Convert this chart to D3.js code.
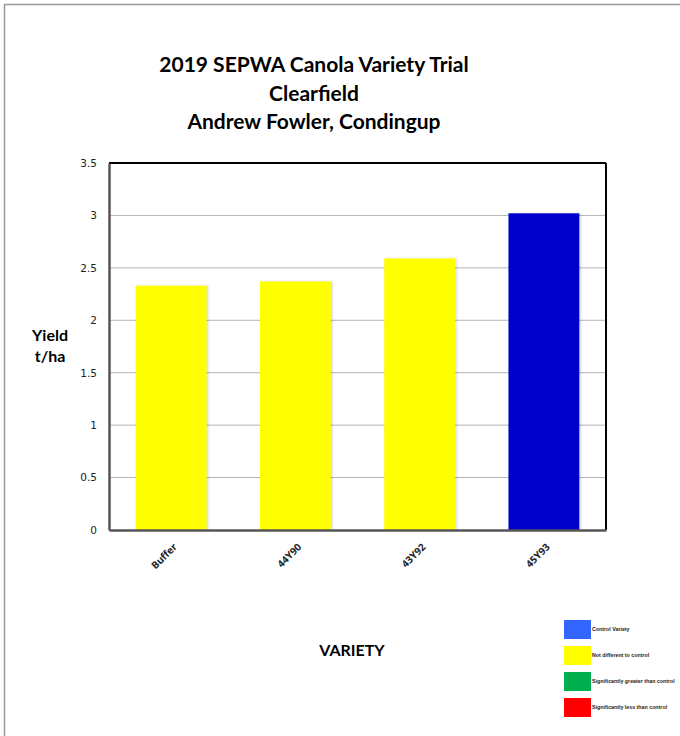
<!DOCTYPE html>
<html>
<head>
<meta charset="utf-8">
<script src="https://cdn.jsdelivr.net/npm/d3@7"></script>
<style>
  body { margin: 0; background: #fff; }
  .axis text { font-family: "DejaVu Sans", Verdana, sans-serif; font-size: 10.5px; fill: #222; }
  .title { font-family: Lato, "Open Sans", sans-serif; font-weight: bold; font-size: 21px; fill: #000; }
  .label { font-family: Lato, "Open Sans", sans-serif; font-weight: bold; font-size: 16px; fill: #000; }
  .legend text { font-family: "Liberation Sans", Arial, sans-serif; font-weight: bold; font-size: 6px; fill: #222; }
</style>
</head>
<body>
<script>
var varieties = ["Buffer", "44Y90", "43Y92", "45Y93"];
var yields = [2.33, 2.37, 2.59, 3.02];
var barColors = ["#ffff00", "#ffff00", "#ffff00", "#0000cc"];
var yTicks = [0, 0.5, 1, 1.5, 2, 2.5, 3, 3.5];
var titleLines = ["2019 SEPWA Canola Variety Trial", "Clearfield", "Andrew Fowler, Condingup"];
var legendLabels = ["Control Variety", "Not different to control", "Significantly greater than control", "Significantly less than control"];
var legendColors = ["#3366ff", "#ffff00", "#00b050", "#ff0000"];

var margin = {top: 163, right: 74, bottom: 206, left: 109},
    width = 680 - margin.left - margin.right,
    height = 736 - margin.top - margin.bottom;

var svg = d3.select("body").append("svg")
    .attr("width", 680)
    .attr("height", 736);

// outer frame
svg.append("rect")
    .attr("x", 4.5).attr("y", 4.5)
    .attr("width", 700).attr("height", 800)
    .attr("fill", "none")
    .attr("stroke", "#999")
    .attr("stroke-width", 1.5);

var defs = svg.append("defs");
var f = defs.append("filter").attr("id", "shadow")
    .attr("x", "-10%").attr("y", "-10%").attr("width", "130%").attr("height", "130%");
f.append("feDropShadow").attr("dx", 1.5).attr("dy", 0).attr("stdDeviation", 1)
    .attr("flood-color", "#000").attr("flood-opacity", 0.18);

var g = svg.append("g")
    .attr("transform", "translate(" + margin.left + "," + margin.top + ")");

var x = d3.scaleBand().domain(varieties).range([0, width])
    .paddingInner(0.43).paddingOuter(0.215);
var y = d3.scaleLinear().domain([0, 3.5]).range([height, 0]);

// gridlines
g.append("g")
    .selectAll("line")
    .data(yTicks.filter(function(d) { return d > 0 && d < 3.5; }))
    .enter().append("line")
    .attr("x1", 0).attr("x2", width)
    .attr("y1", function(d) { return y(d); })
    .attr("y2", function(d) { return y(d); })
    .attr("stroke", "#b4b4b4")
    .attr("stroke-width", 1);

// bars
g.selectAll(".bar")
    .data(yields)
    .enter().append("rect")
    .attr("class", "bar")
    .attr("x", function(d, i) { return x(varieties[i]); })
    .attr("width", x.bandwidth())
    .attr("y", function(d) { return y(d); })
    .attr("height", function(d) { return height - y(d); })
    .attr("fill", function(d, i) { return barColors[i]; })
    .attr("filter", "url(#shadow)");

// frame: top and right black, left and bottom gray axes
g.append("line").attr("x1", 0).attr("x2", width).attr("y1", 0).attr("y2", 0)
    .attr("stroke", "#000").attr("stroke-width", 2);
g.append("line").attr("x1", width).attr("x2", width).attr("y1", 0).attr("y2", height)
    .attr("stroke", "#000").attr("stroke-width", 2);

// Y axis
var yAxis = g.append("g")
    .attr("class", "axis")
    .call(d3.axisLeft(y).tickValues(yTicks).tickSize(0).tickPadding(12)
        .tickFormat(function(d) { return d3.format("")(d); }));
yAxis.select(".domain").attr("stroke", "#555").attr("stroke-width", 2.5);

// X axis
var xAxis = g.append("g")
    .attr("class", "axis")
    .attr("transform", "translate(0," + height + ")")
    .call(d3.axisBottom(x).tickSize(0));
xAxis.select(".domain").attr("stroke", "#555").attr("stroke-width", 2.5);
xAxis.selectAll("text")
    .style("font-family", "'Open Sans', sans-serif")
    .style("font-weight", "bold")
    .style("font-size", "10px")
    .attr("text-anchor", "end")
    .attr("dy", "0.35em")
    .attr("transform", "translate(2,13) rotate(-45)");

// title
svg.append("g").selectAll("text")
    .data(titleLines)
    .enter().append("text")
    .attr("class", "title")
    .attr("text-anchor", "middle")
    .attr("x", 314)
    .attr("y", function(d, i) { return 72 + i * 28.5; })
    .text(function(d) { return d; });

// axis labels
svg.append("text").attr("class", "label").attr("text-anchor", "middle")
    .attr("x", 50).attr("y", 341).text("Yield");
svg.append("text").attr("class", "label").attr("text-anchor", "middle")
    .attr("x", 50).attr("y", 362).text("t/ha");
svg.append("text").attr("class", "label").attr("text-anchor", "middle")
    .attr("x", 352).attr("y", 656).text("VARIETY");

// legend
var legend = svg.append("g").attr("class", "legend");
var legendY = d3.scalePoint().domain(legendLabels).range([620, 698]);
legend.selectAll("rect")
    .data(legendLabels)
    .enter().append("rect")
    .attr("x", 564)
    .attr("y", function(d) { return legendY(d); })
    .attr("width", 27)
    .attr("height", 19)
    .attr("fill", function(d, i) { return legendColors[i]; });
var legendText = legend.selectAll("text")
    .data(legendLabels)
    .enter().append("text")
    .text(function(d) { return d; });
// squeeze the labels horizontally so the longest fits before the frame edge
var longest = d3.max(legendText.nodes(), function(n) { return n.getComputedTextLength(); });
var sx = Math.min(1, 83 / longest);
legendText.attr("transform", function(d) {
    return "translate(592," + (legendY(d) + 11) + ") scale(" + sx + ",1)";
});
</script>
</body>
</html>
